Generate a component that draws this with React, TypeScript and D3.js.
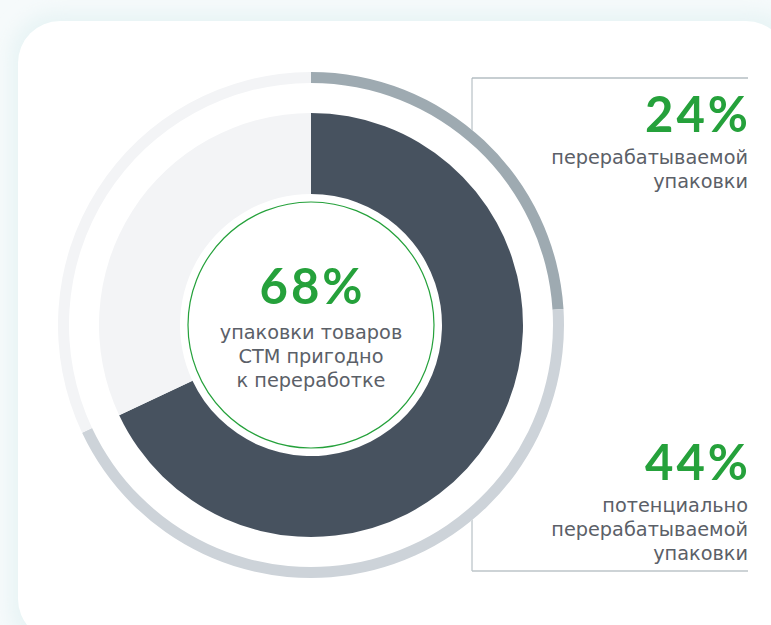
import React from "react";
import * as d3 from "d3";

// Share of private-label packaging that is recyclable
const innerLabels = ["пригодно к переработке", "прочее"];
const innerValues = [68, 32];
const outerLabels = ["перерабатываемой", "потенциально перерабатываемой", "прочее"];
const outerValues = [24, 44, 32];

const centerValue = "68%";
const centerLines = ["упаковки товаров", "СТМ пригодно", "к переработке"];
const topValue = "24%";
const topLines = ["перерабатываемой", "упаковки"];
const bottomValue = "44%";
const bottomLines = ["потенциально", "перерабатываемой", "упаковки"];

const W = 771;
const H = 625;
const cx = 311;
const cy = 325;

const GREEN = "#25a13b";
const TEXT = "#5b6068";
const innerColors = ["#47525f", "#f3f4f6"];
const outerColors = ["#9eaab1", "#cdd3d9", "#f3f4f6"];

const NUM_FONT = "Lato, 'Open Sans', sans-serif";
const BODY_FONT = "'DejaVu Sans', 'Open Sans', sans-serif";
const NUM_SIZE = 49;
const NUM_SPACING = 3;
const BODY_SIZE = 19.3;

export default function App() {
  const pie = d3.pie<number>().sort(null).value((d) => d);
  const innerArcs = pie(innerValues);
  const outerArcs = pie(outerValues);
  const innerArc = d3.arc<d3.PieArcDatum<number>>().innerRadius(131).outerRadius(212);
  const outerArc = d3.arc<d3.PieArcDatum<number>>().innerRadius(242).outerRadius(253);

  return (
    <svg
      width={W}
      height={H}
      viewBox={`0 0 ${W} ${H}`}
      style={{ position: "absolute", left: 0, top: 0, display: "block" }}
    >
      <defs>
        <filter id="glow" x="-10%" y="-10%" width="120%" height="120%">
          <feGaussianBlur stdDeviation="9" />
        </filter>
      </defs>
      <rect x={0} y={0} width={W} height={H} fill="#f6fafb" />
      <rect x={10} y={12} width={790} height={640} rx={46} fill="#e8f4f5" filter="url(#glow)" />
      <rect x={18} y={21} width={770} height={620} rx={42} fill="#ffffff" />

      {/* legend frame, drawn beneath the donut */}
      <line x1={472} y1={78} x2={748} y2={78} stroke="#8f9da4" strokeWidth={1} />
      <line x1={472} y1={78} x2={472} y2={571} stroke="#a9b4ba" strokeWidth={1} />
      <line x1={472} y1={571} x2={748} y2={571} stroke="#bcc4c9" strokeWidth={1.5} />

      <g transform={`translate(${cx},${cy})`}>
        <circle r={253} fill="#ffffff" />
        {outerArcs.map((a, i) => (
          <path key={outerLabels[i]} d={outerArc(a) || ""} fill={outerColors[i]} />
        ))}
        {innerArcs.map((a, i) => (
          <path key={innerLabels[i]} d={innerArc(a) || ""} fill={innerColors[i]} />
        ))}
        <circle r={123} fill="#ffffff" stroke={GREEN} strokeWidth={1.2} />
      </g>

      {/* centre caption */}
      <text
        x={cx + NUM_SPACING / 2}
        y={304}
        textAnchor="middle"
        fontFamily={NUM_FONT}
        fontWeight={700}
        fontSize={NUM_SIZE}
        letterSpacing={NUM_SPACING}
        fill={GREEN}
      >
        {centerValue}
      </text>
      {centerLines.map((t, i) => (
        <text
          key={t}
          x={cx}
          y={339 + i * 24}
          textAnchor="middle"
          fontFamily={BODY_FONT}
          fontSize={BODY_SIZE}
          fill={TEXT}
        >
          {t}
        </text>
      ))}

      <text
        x={748 + NUM_SPACING}
        y={132}
        textAnchor="end"
        fontFamily={NUM_FONT}
        fontWeight={700}
        fontSize={NUM_SIZE}
        letterSpacing={NUM_SPACING}
        fill={GREEN}
      >
        {topValue}
      </text>
      {topLines.map((t, i) => (
        <text key={t} x={748} y={164 + i * 23.5} textAnchor="end" fontFamily={BODY_FONT} fontSize={BODY_SIZE} fill={TEXT}>
          {t}
        </text>
      ))}

      <text
        x={748 + NUM_SPACING}
        y={480}
        textAnchor="end"
        fontFamily={NUM_FONT}
        fontWeight={700}
        fontSize={NUM_SIZE}
        letterSpacing={NUM_SPACING}
        fill={GREEN}
      >
        {bottomValue}
      </text>
      {bottomLines.map((t, i) => (
        <text key={t} x={748} y={512 + i * 24} textAnchor="end" fontFamily={BODY_FONT} fontSize={BODY_SIZE} fill={TEXT}>
          {t}
        </text>
      ))}
    </svg>
  );
}
